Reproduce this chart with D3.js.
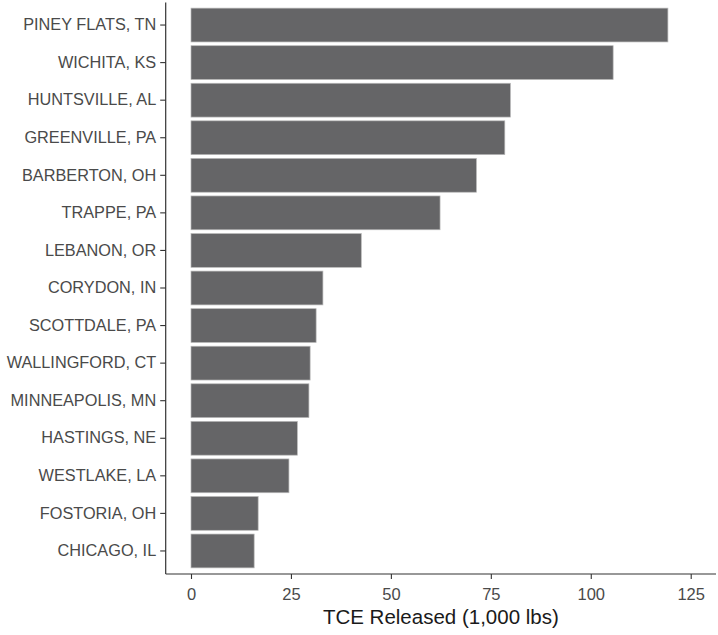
<!DOCTYPE html>
<html>
<head>
<meta charset="utf-8">
<script src="https://cdn.jsdelivr.net/npm/d3@7/dist/d3.min.js"></script>
<style>
  html, body { margin: 0; padding: 0; background: #fff; }
  svg { display: block; }
  text { font-family: "Liberation Sans", Arial, sans-serif; }
</style>
</head>
<body>
<svg id="chart" width="718" height="635"></svg>
<script>
const cities = ["PINEY FLATS, TN","WICHITA, KS","HUNTSVILLE, AL","GREENVILLE, PA","BARBERTON, OH","TRAPPE, PA","LEBANON, OR","CORYDON, IN","SCOTTDALE, PA","WALLINGFORD, CT","MINNEAPOLIS, MN","HASTINGS, NE","WESTLAKE, LA","FOSTORIA, OH","CHICAGO, IL"];
const released = [119.3, 105.6, 79.9, 78.5, 71.4, 62.3, 42.6, 33.0, 31.3, 29.8, 29.5, 26.6, 24.5, 16.8, 15.8];
const xTicks = [0, 25, 50, 75, 100, 125];
const xTitle = "TCE Released (1,000 lbs)";

const svg = d3.select("#chart");
const panelLeft = 165.7, panelRight = 716, panelTop = 2.5, panelBottom = 574;

const x = d3.scaleLinear().domain([0, 125]).range([191, 690.7]);
const y = d3.scaleBand().domain(cities).range([panelTop, panelBottom - 0.5])
  .paddingInner(0.1).paddingOuter(0.15);

const data = cities.map((c, i) => ({ city: c, value: released[i] }));

svg.append("g").selectAll("rect").data(data).join("rect")
  .attr("x", x(0))
  .attr("y", d => y(d.city))
  .attr("width", d => x(d.value) - x(0))
  .attr("height", y.bandwidth())
  .attr("fill", "#656567")
  .attr("stroke", "#b8b8b8")
  .attr("stroke-width", 0.7);

// x axis
const xAxis = svg.append("g").attr("transform", `translate(0,${panelBottom})`)
  .call(d3.axisBottom(x).tickValues(xTicks).tickSize(5).tickPadding(9).tickFormat(d3.format("d")));
xAxis.select(".domain").remove();
xAxis.selectAll(".tick line").attr("stroke", "#333").attr("stroke-width", 1.1);
xAxis.selectAll(".tick text").attr("fill", "#4a4a4a").attr("font-size", "16.5px")
  .attr("font-family", "Liberation Sans, Arial, sans-serif");

// y axis
const yAxis = svg.append("g").attr("transform", `translate(${panelLeft},0)`)
  .call(d3.axisLeft(y).tickSize(5.5).tickPadding(4));
yAxis.select(".domain").remove();
yAxis.selectAll(".tick line").attr("stroke", "#333").attr("stroke-width", 1.1);
yAxis.selectAll(".tick text").attr("fill", "#4a4a4a").attr("font-size", "16.3px")
  .attr("font-family", "Liberation Sans, Arial, sans-serif");

// axis lines
svg.append("line").attr("x1", panelLeft).attr("x2", panelRight)
  .attr("y1", panelBottom).attr("y2", panelBottom)
  .attr("stroke", "#333").attr("stroke-width", 1.2);
svg.append("line").attr("x1", panelLeft).attr("x2", panelLeft)
  .attr("y1", panelTop).attr("y2", panelBottom)
  .attr("stroke", "#333").attr("stroke-width", 1.2);

// title
svg.append("text")
  .attr("x", (panelLeft + panelRight) / 2)
  .attr("y", 623.5)
  .attr("text-anchor", "middle")
  .attr("font-size", "20.5px")
  .attr("fill", "#1a1a1a")
  .text(xTitle);
</script>
</body>
</html>
